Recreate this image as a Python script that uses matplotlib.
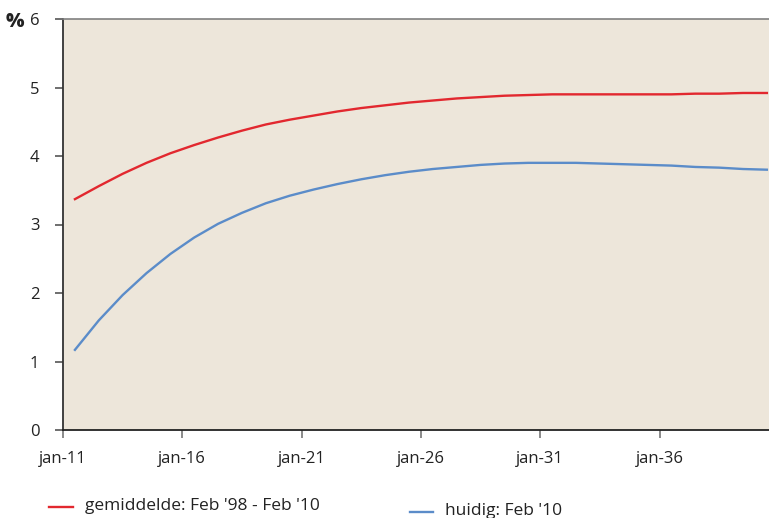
import matplotlib
matplotlib.use("Agg")
import matplotlib.pyplot as plt
import numpy as np

plt.rcParams['font.family'] = ['Open Sans', 'DejaVu Sans']

# yearly points 2011..2040 (plotted at mid-year)
years = list(range(2011, 2041))
gemiddelde = [3.37, 3.56, 3.74, 3.90, 4.04, 4.16, 4.27, 4.37, 4.46, 4.53,
              4.59, 4.65, 4.70, 4.74, 4.78, 4.81, 4.84, 4.86, 4.88, 4.89,
              4.90, 4.90, 4.90, 4.90, 4.90, 4.90, 4.91, 4.91, 4.92, 4.92]
huidig = [1.17, 1.60, 1.97, 2.29, 2.57, 2.81, 3.01, 3.17, 3.31, 3.42,
          3.51, 3.59, 3.66, 3.72, 3.77, 3.81, 3.84, 3.87, 3.89, 3.90,
          3.90, 3.90, 3.89, 3.88, 3.87, 3.86, 3.84, 3.83, 3.81, 3.80]
tick_years = [2011, 2016, 2021, 2026, 2031, 2036]
tick_labels = ['jan-11', 'jan-16', 'jan-21', 'jan-26', 'jan-31', 'jan-36']
yticks = [0, 1, 2, 3, 4, 5, 6]
label_gem = "gemiddelde: Feb '98 - Feb '10"
label_hui = "huidig: Feb '10"

red = '#e2282f'
blue = '#5b8cc9'
bg = '#ede6da'

fig = plt.figure(figsize=(7.69, 5.18), dpi=100)
ax = fig.add_axes([63/769, 88/518, 708/769, 411/518])
ax.set_facecolor(bg)

x = np.array(years) + 0.5
ax.plot(x, gemiddelde, color=red, lw=1.7, label=label_gem)
ax.plot(x, huidig, color=blue, lw=1.7, label=label_hui)

ax.set_xlim(2011, 2011 + 708/119.3*5)
ax.set_ylim(0, 6)
ax.set_xticks(tick_years)
ax.set_xticklabels(tick_labels)
ax.set_yticks(yticks)
ax.set_yticklabels([str(v) for v in yticks])

ax.spines['right'].set_visible(False)
ax.spines['top'].set_color('#808080')
ax.spines['top'].set_linewidth(1.2)
ax.spines['left'].set_color('#333333')
ax.spines['left'].set_linewidth(1.3)
ax.spines['bottom'].set_color('#222222')
ax.spines['bottom'].set_linewidth(1.3)

ax.tick_params(axis='y', direction='out', length=6, width=1.2, color='#555555',
               labelsize=12, pad=11, labelcolor='#222222')
ax.tick_params(axis='x', direction='out', length=6, width=1.2, color='#777777',
               labelsize=12, pad=9, labelcolor='#222222')

fig.text(6/769, 1 - 22/518, '%', fontsize=14, fontweight='heavy', va='center',
         ha='left', color='#222222')

# legend entries
fig.add_artist(plt.Line2D([49/769, 73/769], [1 - 507/518, 1 - 507/518],
                          color=red, lw=1.7))
fig.text(85/769, 1 - 506/518, label_gem, fontsize=12.5, va='center', ha='left',
         color='#222222')
fig.add_artist(plt.Line2D([410/769, 433/769], [1 - 512/518, 1 - 512/518],
                          color=blue, lw=1.7))
fig.text(445/769, 1 - 511/518, label_hui, fontsize=12.5, va='center', ha='left',
         color='#222222')

fig.savefig('out.png', dpi=100)
